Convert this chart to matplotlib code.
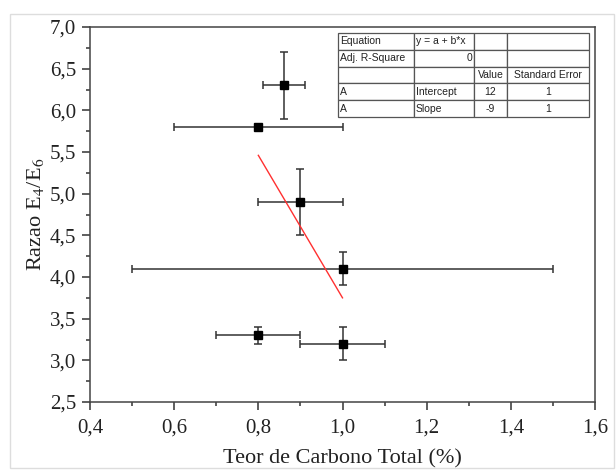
import matplotlib
matplotlib.use("Agg")
import matplotlib.pyplot as plt
from matplotlib.ticker import MultipleLocator, FuncFormatter
from matplotlib.patches import Rectangle

plt.rcParams["mathtext.fontset"] = "stix"

# data
carbono = [0.86, 0.80, 0.90, 1.00, 0.80, 1.00]
razao = [6.3, 5.8, 4.9, 4.1, 3.3, 3.2]
x_err = [0.05, 0.20, 0.10, 0.50, 0.10, 0.10]
y_err = [0.4, 0.0, 0.4, 0.2, 0.1, 0.2]

fit_x = [0.80, 1.00]
fit_y = [5.46, 3.75]

table_rows = [
    ["Equation", "y = a + b*x", "", ""],
    ["Adj. R-Square", "0", "", ""],
    ["", "", "Value", "Standard Error"],
    ["A", "Intercept", "12", "1"],
    ["A", "Slope", "-9", "1"],
]
col_widths = [76, 60, 33, 82]

serif = ["Liberation Serif", "DejaVu Serif"]

fig = plt.figure(figsize=(6.16, 4.70), dpi=100)
fig.patches.append(Rectangle((10/616, 2/470), 604/616, 454/470, transform=fig.transFigure,
                             fill=False, edgecolor="#dddddd", linewidth=1))
L, R, T, B = 90, 595, 27, 402
ax = fig.add_axes([L/616, 1 - B/470, (R - L)/616, (B - T)/470])

ax.errorbar(carbono, razao, xerr=x_err, yerr=y_err, fmt="s", color="black",
            ecolor="#333333", elinewidth=1.1, capsize=3, capthick=1.1, markersize=6)
ax.plot(fit_x, fit_y, color="#ff3030", linewidth=1)

ax.set_xlim(0.4, 1.6)
ax.set_ylim(2.5, 7.0)
ax.xaxis.set_major_locator(MultipleLocator(0.2))
ax.xaxis.set_minor_locator(MultipleLocator(0.1))
ax.yaxis.set_major_locator(MultipleLocator(0.5))
ax.yaxis.set_minor_locator(MultipleLocator(0.25))
fmt = FuncFormatter(lambda v, p: ("%.1f" % v).replace(".", ","))
ax.xaxis.set_major_formatter(fmt)
ax.yaxis.set_major_formatter(fmt)
ax.tick_params(which="both", direction="out", colors="#333333", width=1.1)
ax.tick_params(which="major", length=6, labelsize=15, labelcolor="#222222", pad=4)
ax.tick_params(axis="x", which="major", pad=6)
ax.tick_params(which="minor", length=3)
for lab in ax.get_xticklabels() + ax.get_yticklabels():
    lab.set_family(serif)
for s in ax.spines.values():
    s.set_color("#444444")
    s.set_linewidth(1.1)

ax.set_xlabel("Teor de Carbono Total (%)", family=serif, fontsize=16, color="#222222", labelpad=8)
ax.set_ylabel("Razao E$_4$/E$_6$", family=serif, fontsize=16, color="#222222", labelpad=3)

# fit results table
tx0 = (338 - L) / (R - L)
tw = (589 - 338) / (R - L)
ty_top = (B - 33) / (B - T)
ty_bot = (B - 117) / (B - T)
total = sum(col_widths)
tab = ax.table(cellText=table_rows, colWidths=[w / total for w in col_widths],
               bbox=[tx0, ty_bot, tw, ty_top - ty_bot], cellLoc="center")
tab.auto_set_font_size(False)
for (r, c), cell in tab.get_celld().items():
    cell.set_edgecolor("#555555")
    cell.set_linewidth(0.9)
    txt = cell.get_text()
    txt.set_fontsize(7.5)
    txt.set_family(["Liberation Sans", "DejaVu Sans"])
    txt.set_color("#222222")
    cell.PAD = 0.03
    if c == 0 or (c == 1 and r != 1):
        txt.set_horizontalalignment("left")
    elif c == 1 and r == 1:
        txt.set_horizontalalignment("right")

fig.savefig("out.png", dpi=100)
